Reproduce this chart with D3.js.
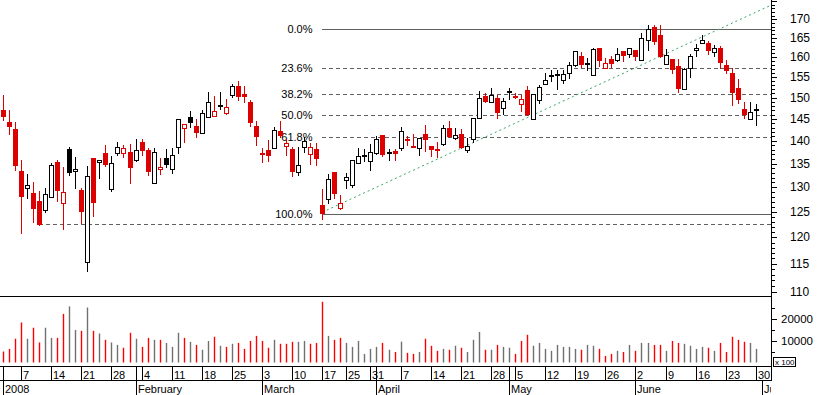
<!DOCTYPE html>
<html>
<head>
<meta charset="utf-8">
<script src="https://cdn.jsdelivr.net/npm/d3@7"></script>
<style>
  body { margin: 0; background: #fff; }
  svg { display: block; font-family: Arial, "Liberation Sans", sans-serif; }
</style>
</head>
<body>
<svg id="chart" width="817" height="395"></svg>
<script>
// trading calendar (weekdays minus exchange holidays)
const firstDay = "2008-01-02";
const lastDay = "2008-07-01";
const holidays = ["2008-01-01", "2008-03-21", "2008-03-24", "2008-05-01"];

const open = [147.1,144.3,142.7,133.4,129.8,128.8,127.2,125.3,127.9,135.3,
  126.7,138.2,133.4,129.4,115.3,136.2,135.3,137.3,129.6,137.3,
  137.3,137.5,135.8,139.7,137.9,130.8,133.8,136.2,133.8,138.6,
  142.9,145.4,143.3,141.7,145.3,145.8,148.3,146.3,150.4,152.8,
  150.9,148.9,143.4,137.3,138.0,138.4,142.3,138.9,138.2,133.3,
  138.6,137.1,138.2,126.4,127.5,133.2,125.7,131.5,130.4,135.0,
  136.8,135.6,137.1,141.3,137.5,137.8,138.4,140.3,138.9,138.4,
  141.5,138.9,138.1,139.2,142.9,140.7,141.6,138.1,140.3,145.1,
  150.4,149.0,149.8,147.6,151.5,150.5,148.4,151.9,145.1,149.3,
  153.3,155.4,155.8,154.3,155.8,157.9,160.3,158.5,155.4,162.3,
  157.2,159.6,159.3,161.6,160.8,161.9,159.5,164.3,167.9,165.8,
  158.2,159.5,157.8,152.0,157.2,161.7,163.8,163.8,161.2,162.3,
  158.1,156.1,152.3,147.3,145.1,147.2];

const high = [150.6,147.1,144.2,135.8,132.7,131.0,129.2,129.8,135.1,135.8,
  134.2,138.7,136.4,129.8,134.5,136.2,135.8,139.1,136.7,139.7,
  139.0,139.3,140.4,140.4,138.4,138.4,136.2,138.2,138.4,145.0,
  143.9,146.9,144.9,147.1,151.3,150.4,151.4,149.7,153.3,154.1,
  152.7,149.4,144.5,138.4,140.2,143.1,144.5,140.3,138.7,138.7,
  140.9,139.5,139.6,129.6,132.8,133.2,128.4,132.9,135.7,138.4,
  138.1,139.3,141.1,141.3,138.1,138.2,143.2,141.1,141.6,140.6,
  143.6,138.9,139.8,143.6,144.4,142.9,142.6,140.6,145.1,151.6,
  151.1,152.3,150.6,149.8,152.3,151.1,150.6,152.8,150.9,153.1,
  156.1,156.8,156.8,156.8,158.9,161.6,161.3,159.8,162.3,162.3,
  159.8,160.2,162.5,161.6,162.3,161.9,166.3,168.5,168.5,168.5,
  162.1,159.5,159.5,157.2,160.8,163.4,165.8,164.2,163.2,162.9,
  159.3,157.2,154.5,148.9,148.9,148.5];

const low = [144.6,141.3,133.3,120.6,127.5,122.7,122.1,124.7,127.9,127.0,
  121.4,132.4,129.6,122.6,113.6,123.9,131.7,134.2,129.1,136.6,
  136.2,130.6,135.3,136.7,132.4,130.8,132.6,134.1,132.8,137.1,
  139.5,142.9,140.6,141.7,145.1,145.8,147.1,145.9,149.8,149.2,
  148.7,143.2,138.9,135.2,135.4,138.1,140.7,136.7,132.1,132.4,
  137.3,134.7,134.5,123.4,126.6,127.6,125.3,129.7,129.9,135.0,
  135.4,133.3,136.9,136.4,135.6,135.6,137.8,138.9,138.6,136.7,
  137.5,136.4,136.2,138.9,140.6,140.2,138.1,137.4,139.6,145.1,
  148.7,148.7,144.9,145.8,149.4,149.6,146.5,145.7,144.9,148.4,
  153.3,153.9,151.9,153.3,154.6,157.4,157.2,156.6,155.4,157.5,
  157.1,157.2,158.9,158.9,159.9,159.1,159.2,161.7,163.2,159.7,
  158.2,155.8,151.1,152.0,154.7,160.0,163.6,160.6,160.0,157.0,
  155.8,148.0,148.5,145.0,144.9,143.4];

const close = [145.5,143.2,134.6,127.9,130.4,125.6,122.5,128.6,134.6,129.1,
  129.0,132.9,133.9,125.0,132.3,126.8,135.7,134.8,135.1,138.6,
  138.4,134.1,137.9,137.8,133.1,137.5,134.2,134.6,136.9,144.9,
  143.8,143.9,141.8,146.3,148.9,146.9,147.8,147.7,152.7,150.2,
  150.1,144.1,140.9,137.2,136.7,142.5,141.1,139.6,133.3,134.7,
  140.0,138.6,136.1,124.5,131.7,128.6,126.8,132.2,135.7,136.6,
  136.7,137.6,140.3,136.9,137.4,137.1,142.3,139.8,138.8,140.6,
  140.2,138.0,137.9,142.9,140.9,141.3,138.4,138.9,145.1,149.8,
  149.0,150.6,146.2,149.3,150.9,150.4,149.6,145.9,150.9,152.5,
  154.2,155.3,155.4,155.7,157.9,161.6,157.9,158.0,162.1,158.9,
  158.5,158.4,160.8,160.2,162.3,160.2,165.1,167.3,164.0,160.0,
  160.6,156.6,152.0,157.0,160.2,162.3,164.5,161.7,162.3,158.5,
  156.6,151.2,149.3,145.8,146.7,146.9];

// volume in hundreds
const volume = [5000,6200,10800,18200,10800,15800,9100,15800,11200,11200,
  22100,25500,14800,14400,25000,14400,13200,10300,9100,8000,
  6700,13500,10800,7100,11200,10300,10300,8900,7100,13500,
  11200,9400,8000,5800,9800,11700,7600,7100,8500,8900,
  6200,9800,12100,9800,6700,10300,8500,8500,9400,9400,
  9800,8500,8900,27600,12100,10300,11200,8900,7100,9800,
  3900,6200,7100,8900,5800,4800,9500,4400,3900,4800,
  10800,7600,5300,6200,5800,7600,6700,4800,10300,13900,
  5800,5800,8000,7100,6700,3900,9800,12600,7600,8900,
  6200,5300,8000,7100,7100,6200,5800,8000,7600,6200,
  3000,3900,5300,4800,8000,5300,8900,8900,8000,8000,
  5300,9800,8900,8500,7600,6200,7100,6700,5300,8900,
  4800,11700,10300,9400,8900,6200];

const prevClose = 148.0; // close of the session before the first bar

const priceTicks = [110,115,120,125,130,135,140,145,150,155,160,165,170,175];
const volumeTicks = [10000, 20000];
const monthLabels = ["2008","February","March","April","May","June","July"];

// retracement between two closes, support from one close, trend through two points
const fibLevels = [0, 0.236, 0.382, 0.5, 0.618, 1];
const fibLabels = ["0.0%","23.6%","38.2%","50.0%","61.8%","100.0%"];
const fibLowBar = 53, fibHighBar = 107;
const supportBar = 6;
const trendBars = [53, 88];
const trendPrices = [124.9, 145.9];

const RED = "#dd0000", GREY = "#707070", LINE = "#606060";
const W = 771, slots = 128;

const svg = d3.select("#chart");
svg.append("rect").attr("width", 817).attr("height", 395).attr("fill", "#fff");

// dates
const hol = new Set(holidays);
const fmt = d3.timeFormat("%Y-%m-%d");
const dates = d3.timeDay.range(d3.timeParse("%Y-%m-%d")(firstDay),
  d3.timeDay.offset(d3.timeParse("%Y-%m-%d")(lastDay), 1))
  .filter(d => d.getDay() > 0 && d.getDay() < 6 && !hol.has(fmt(d)));

const x = d3.scaleLinear().domain([0, slots]).range([0, W]);
const cx = i => Math.round(x(i + 0.5));
const y = d3.scaleLog().domain([109.13, 175.32]).range([296.7, 0]);
const yv = d3.scaleLinear().domain([0, 10000]).range([362.5, 340.5]);

const bars = close.map((c, i) => ({
  i: i, o: open[i], h: high[i], l: low[i], c: c, v: volume[i],
  pc: i ? close[i - 1] : prevClose
}));
const colorOf = d => (d.c < d.pc ? RED : "#000");

svg.append("clipPath").attr("id", "plot")
  .append("rect").attr("x", 0).attr("y", 0).attr("width", W).attr("height", 296.7);
svg.append("clipPath").attr("id", "dates")
  .append("rect").attr("x", 0).attr("y", 366).attr("width", W).attr("height", 30);

// overlays
const ov = svg.append("g").attr("clip-path", "url(#plot)");
const hi = close[fibHighBar], lo = close[fibLowBar];
fibLevels.forEach((r, k) => {
  const yy = Math.round(y(hi - r * (hi - lo))) + 0.5;
  ov.append("line")
    .attr("x1", cx(fibLowBar)).attr("x2", W)
    .attr("y1", yy).attr("y2", yy)
    .attr("stroke", LINE)
    .attr("stroke-dasharray", r === 0 || r === 1 ? null : "4,3");
  svg.append("text")
    .attr("x", 312.5).attr("y", yy)
    .attr("dy", "0.35em")
    .attr("text-anchor", "end")
    .attr("font-size", 11)
    .text(fibLabels[k]);
});

const sy = Math.round(y(close[supportBar])) + 0.5;
ov.append("line")
  .attr("x1", cx(supportBar)).attr("x2", W)
  .attr("y1", sy).attr("y2", sy)
  .attr("stroke", LINE).attr("stroke-dasharray", "4,3");

const tx1 = x(trendBars[0] + 0.5), ty1 = y(trendPrices[0]);
const tx2 = x(trendBars[1] + 0.5), ty2 = y(trendPrices[1]);
const slope = (ty2 - ty1) / (tx2 - tx1);
ov.append("line")
  .attr("x1", tx1).attr("y1", ty1)
  .attr("x2", W).attr("y2", ty1 + slope * (W - tx1))
  .attr("stroke", "#3aa865").attr("stroke-width", 1)
  .attr("stroke-dasharray", "2,3");

// candles
const cg = svg.append("g").attr("shape-rendering", "crispEdges");
cg.selectAll(".wick")
  .data(bars)
  .enter()
  .append("line")
  .attr("class", "wick")
  .attr("x1", d => cx(d.i) + 0.5).attr("x2", d => cx(d.i) + 0.5)
  .attr("y1", d => y(d.h)).attr("y2", d => y(d.l))
  .attr("stroke", colorOf);

cg.selectAll(".body")
  .data(bars)
  .enter()
  .append("rect")
  .attr("class", "body")
  .attr("x", d => (d.c >= d.o ? cx(d.i) - 1.5 : cx(d.i) - 2))
  .attr("width", d => (d.c >= d.o ? 4 : 5))
  .attr("y", d => {
    const t = y(Math.max(d.o, d.c));
    return d.c >= d.o ? Math.round(t) + 0.5 : Math.round(t);
  })
  .attr("height", d => {
    const h = Math.round(y(Math.min(d.o, d.c)) - y(Math.max(d.o, d.c)));
    return d.c >= d.o ? Math.max(1, h) : Math.max(2, h);
  })
  .attr("fill", d => (d.c >= d.o ? "#fff" : colorOf(d)))
  .attr("stroke", d => (d.c >= d.o ? colorOf(d) : "none"));

// volume
svg.selectAll(".vol")
  .data(bars)
  .enter()
  .append("line")
  .attr("class", "vol")
  .attr("x1", d => cx(d.i) + 0.5).attr("x2", d => cx(d.i) + 0.5)
  .attr("y1", yv(0)).attr("y2", d => yv(d.v))
  .attr("stroke", d => (d.c < d.pc ? "#ff0000" : GREY))
  .attr("stroke-width", 1.4);

// frame
const fr = svg.append("g").attr("stroke", "#000").attr("shape-rendering", "crispEdges");
fr.append("line").attr("x1", 0).attr("x2", W).attr("y1", 296.5).attr("y2", 296.5);
fr.append("line").attr("x1", W + 0.5).attr("x2", W + 0.5).attr("y1", 0).attr("y2", 380.5);

// price axis
d3.range(110, 176).forEach(p => {
  const yy = Math.round(y(p)) + 0.5;
  fr.append("line").attr("x1", W).attr("x2", W + (p % 5 ? 4 : 6))
    .attr("y1", yy).attr("y2", yy);
});
svg.selectAll(".plab")
  .data(priceTicks.filter(p => y(p) > 8))
  .enter()
  .append("text")
  .attr("x", 790).attr("y", d => y(d)).attr("dy", "0.35em")
  .attr("font-size", 12)
  .text(d => d);

// volume axis
[5000, 10000, 15000, 20000, 25000].forEach(v => {
  const yy = Math.round(yv(v)) + 0.5;
  fr.append("line").attr("x1", W).attr("x2", W + (v % 10000 ? 4 : 6))
    .attr("y1", yy).attr("y2", yy);
});
svg.selectAll(".vlab")
  .data(volumeTicks)
  .enter()
  .append("text")
  .attr("x", 781).attr("y", d => yv(d)).attr("dy", "0.35em")
  .attr("font-size", 11.5)
  .text(d => d);
fr.append("rect").attr("x", 773.5).attr("y", 357.5).attr("width", 22).attr("height", 9)
  .attr("fill", "#fff");
svg.append("text").attr("x", 775).attr("y", 365).attr("font-size", 8).text("x 100");

// date axis
const axTop = 366.5, axMid = 380.5;
fr.append("line").attr("x1", 0).attr("x2", W).attr("y1", axTop).attr("y2", axTop);
fr.append("line").attr("x1", 0).attr("x2", W).attr("y1", axMid).attr("y2", axMid);
const dg = svg.append("g").attr("clip-path", "url(#dates)");
let m = 0;
dates.forEach((d, i) => {
  const px = cx(i) + 0.5;
  const newWeek = i > 0 && +d3.timeMonday.floor(d) !== +d3.timeMonday.floor(dates[i - 1]);
  const newMonth = i === 0 || d.getMonth() !== dates[i - 1].getMonth();
  if (newWeek && i < close.length) {
    dg.append("line").attr("x1", px).attr("x2", px).attr("y1", axTop).attr("y2", axMid)
      .attr("stroke", "#000").attr("shape-rendering", "crispEdges");
    dg.append("text").attr("x", px + 1.5).attr("y", 378.5).attr("font-size", 11)
      .text(d.getDate());
  }
  if (newMonth) {
    dg.append("line").attr("x1", px).attr("x2", px)
      .attr("y1", i < close.length ? axTop : axMid).attr("y2", 395)
      .attr("stroke", "#000").attr("shape-rendering", "crispEdges");
    dg.append("text").attr("x", px + 1.5).attr("y", 392.5).attr("font-size", 11)
      .text(monthLabels[m++]);
  }
});
</script>
</body>
</html>
